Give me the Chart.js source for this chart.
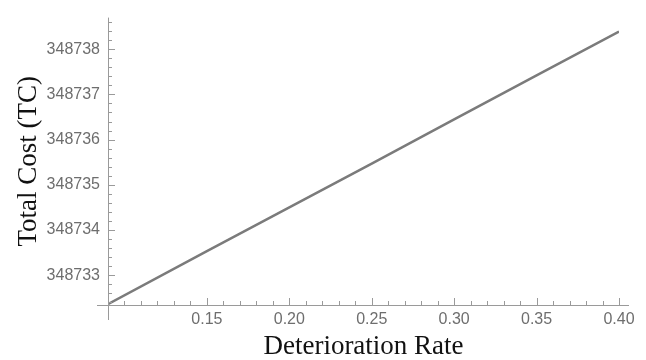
<!DOCTYPE html>
<html>
<head>
<meta charset="utf-8">
<script src="https://cdn.jsdelivr.net/npm/chart.js@4"></script>
<style>
  body { margin:0; background:#fff; }
  canvas { display:block; }
</style>
</head>
<body>
<canvas id="chart" width="646" height="360"></canvas>
<script>
// values
let rate = [0.09, 0.15, 0.20, 0.25, 0.30, 0.35, 0.40];
let totalCost = [348732.36, 348733.53, 348734.50, 348735.47, 348736.45, 348737.42, 348738.39];
let xTicks = [0.15, 0.20, 0.25, 0.30, 0.35, 0.40];
let yTicks = [348733, 348734, 348735, 348736, 348737, 348738];

let axisColor = "#9a9a9a";

// mathematica style axes: inward ticks, minor ticks, axes overshoot a little
let axesPlugin = {
  id:"axes",
  afterDraw(chart){
    let ctx = chart.ctx, xs = chart.scales.x, ys = chart.scales.y;
    let x0 = xs.getPixelForValue(xs.min), y0 = ys.getPixelForValue(ys.min);
    ctx.save();
    ctx.strokeStyle = axisColor;
    ctx.lineWidth = 1;
    ctx.beginPath();
    ctx.moveTo(x0 + 0.5, ys.getPixelForValue(ys.max));
    ctx.lineTo(x0 + 0.5, y0 + 15);
    ctx.moveTo(x0 - 11, y0 + 0.5);
    ctx.lineTo(xs.getPixelForValue(xs.max) + 10, y0 + 0.5);
    // x ticks every 0.01, major every 0.05
    for (let i = Math.ceil(xs.min * 100 + 0.001); i <= Math.round(xs.max * 100); i++) {
      let px = Math.round(xs.getPixelForValue(i / 100)) + 0.5;
      let len = (i % 5 === 0 && i !== 10) ? 7 : 4;
      ctx.moveTo(px, y0);
      ctx.lineTo(px, y0 - len);
    }
    // y ticks every 0.2, major every 1
    let base = Math.ceil(ys.min * 5);
    for (let j = base; j <= Math.floor(ys.max * 5); j++) {
      let py = Math.round(ys.getPixelForValue(j / 5)) + 0.5;
      let len = (j % 5 === 0) ? 7 : 4;
      ctx.moveTo(x0, py);
      ctx.lineTo(x0 + len, py);
    }
    ctx.stroke();
    ctx.restore();
  }
};

new Chart(document.getElementById("chart"), {
  type:"line",
  data:{
    datasets:[{
      data: rate.map((r, i) => ({x:r, y:totalCost[i]})),
      borderColor:"#7b7b7b",
      borderWidth:2.5,
      pointRadius:0,
      tension:0,
      fill:false
    }]
  },
  options:{
    responsive:false,
    animation:false,
    layout:{ padding:{ top:8, right:27, left:0, bottom:0 } },
    plugins:{ legend:{display:false}, tooltip:{enabled:false} },
    scales:{
      x:{
        type:"linear",
        min:0.09, max:0.40,
        grid:{ display:false, drawTicks:false },
        border:{ display:false },
        afterBuildTicks: s => { s.ticks = xTicks.map(v => ({value:v})); },
        afterFit: s => { s.height = 55; },
        ticks:{
          padding:5,
          color:"#6e6e6e",
          font:{ family:"'Liberation Sans', Arial, sans-serif", size:16 },
          callback: v => v.toFixed(2)
        },
        title:{
          display:true,
          text:"Deterioration Rate",
          color:"#111",
          padding:{ top:0, bottom:0 },
          font:{ family:"'Liberation Serif', 'Times New Roman', serif", size:27, lineHeight:1 }
        }
      },
      y:{
        type:"linear",
        min:348732.34, max:348738.70,
        grid:{ display:false, drawTicks:false },
        border:{ display:false },
        afterBuildTicks: s => { s.ticks = yTicks.map(v => ({value:v})); },
        afterFit: s => { s.width = 108; },
        ticks:{
          padding:8,
          color:"#6e6e6e",
          font:{ family:"'Liberation Sans', Arial, sans-serif", size:16 },
          callback: v => String(v)
        },
        title:{
          display:true,
          text:"Total Cost (TC)",
          color:"#111",
          padding:{ top:15, bottom:0 },
          font:{ family:"'Liberation Serif', 'Times New Roman', serif", size:27, lineHeight:1 }
        }
      }
    }
  },
  plugins:[axesPlugin]
});
</script>
</body>
</html>
